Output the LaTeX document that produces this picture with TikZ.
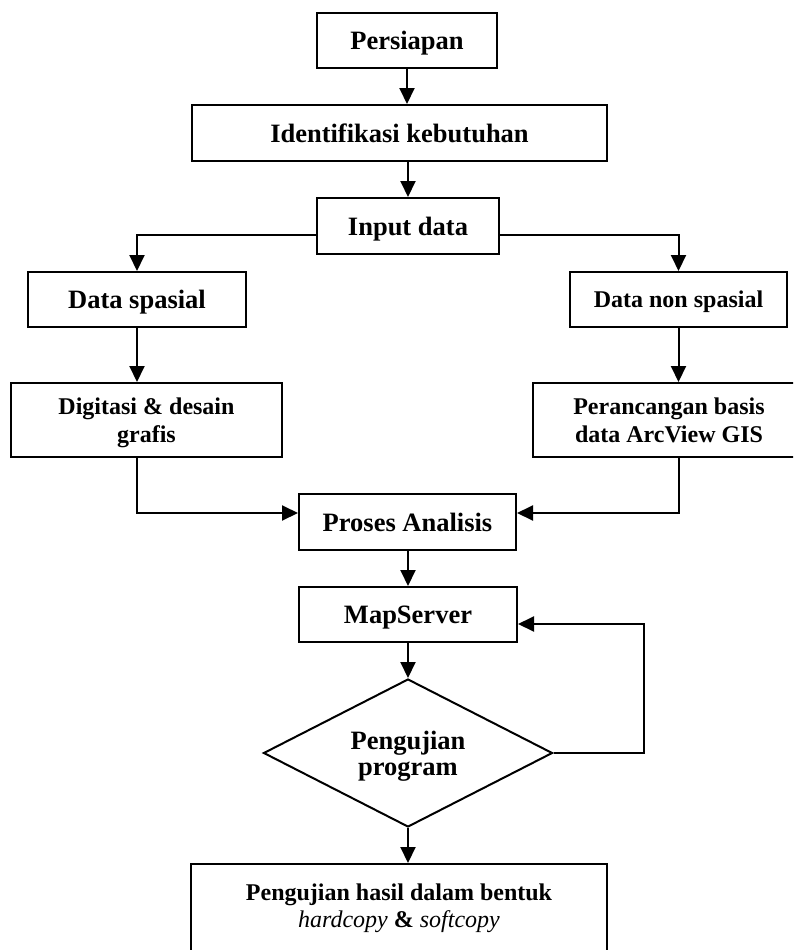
\documentclass[tikz,border=0pt]{standalone}
\usepackage{fontspec}
\setmainfont{Liberation Serif}
\usetikzlibrary{arrows.meta,shapes.geometric}
\tikzset{
  framed/.style={draw,line width=2pt,rectangle,inner sep=0pt,align=center},
  box/.style={framed,text depth=0pt,font=\fontsize{26.5}{27}\selectfont\bfseries},
  smallbox/.style={box,font=\fontsize{24}{28}\selectfont\bfseries},
  finalbox/.style={framed,font=\fontsize{24}{27}\selectfont},
  decision/.style={draw,line width=2pt,diamond,aspect=1.95,inner sep=0pt,align=center,text depth=0pt,
    minimum width=289pt,minimum height=148pt,font=\fontsize{26.5}{26}\selectfont\bfseries},
  arr/.style={line width=2pt,-{Triangle[length=16pt,width=15pt]}}
}
\begin{document}
\begin{tikzpicture}[x=1pt,y=-1pt]
\useasboundingbox (0,0) rectangle (793,950);
\clip (0,0) rectangle (793,950);
\fill[white] (0,0) rectangle (793,950);
\node[box,minimum width=180pt,minimum height=55pt] (persiapan) at (407,40.5) {Persiapan};
\node[box,minimum width=415pt,minimum height=56pt] (ident) at (399.5,133) {Identifikasi kebutuhan};
\node[box,minimum width=182pt,minimum height=56pt] (input) at (408,226) {Input data};
\node[box,minimum width=218pt,minimum height=55pt] (spasial) at (137,299.5) {Data spasial};
\node[smallbox,minimum width=217pt,minimum height=55pt] (nonspasial) at (678.5,299.5) {Data non spasial};
\node[smallbox,minimum width=271pt,minimum height=74pt] (digitasi) at (146.5,420) {Digitasi \& desain\\grafis};
\node[smallbox,minimum width=272pt,minimum height=74pt] (rancang) at (669,420) {Perancangan basis\\data ArcView GIS};
\node[box,minimum width=217pt,minimum height=56pt] (proses) at (407.5,522) {Proses Analisis};
\node[box,minimum width=218pt,minimum height=55pt] (map) at (408,614.5) {MapServer};
\node[decision] (dia) at (408,753) {Pengujian\\program};
\node[finalbox,minimum width=416pt,minimum height=88pt] (final) at (399,908)
  {\textbf{Pengujian hasil dalam bentuk}\\\textit{hardcopy} \textbf{\&} \textit{softcopy}};

\draw[arr] (persiapan.south) -- (persiapan.south |- ident.north);
\draw[arr] (input.north |- ident.south) -- (input.north);
\draw[arr] ([yshift=-9pt]input.west) -| (spasial.north);
\draw[arr] ([yshift=-9pt]input.east) -| (nonspasial.north);
\draw[arr] (spasial.south) -- (spasial.south |- digitasi.north);
\draw[arr] (nonspasial.south) -- (nonspasial.south |- rancang.north);
\draw[arr] (spasial.south |- digitasi.south) |- ([yshift=9pt]proses.west);
\draw[arr] (nonspasial.south |- rancang.south) |- ([yshift=9pt]proses.east);
\draw[arr] (proses.south) -- (proses.south -| map.north) -- (map.north);
\draw[arr] (map.south) -- (dia.north);
\draw[arr] (dia.east) -- ++(90pt,0) |- ([yshift=-9.5pt]map.east);
\draw[arr] (dia.south) -- (dia.south |- final.north);
\end{tikzpicture}
\end{document}
